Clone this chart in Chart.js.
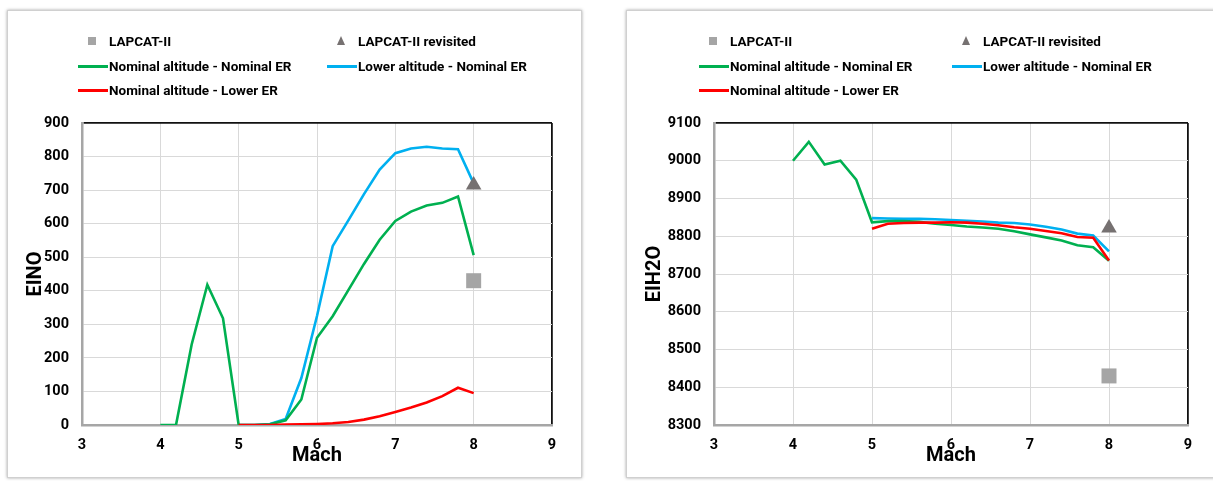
<!DOCTYPE html>
<html>
<head>
<meta charset="utf-8">
<script src="https://cdn.jsdelivr.net/npm/chart.js@4"></script>
<style>
  body { margin: 0; background: #fff; width: 1213px; height: 481px; overflow: hidden; position: relative; font-family: Roboto, "Liberation Sans", sans-serif; }
  .panel { position: absolute; top: 10px; height: 468px; background: #fff; border: 1px solid #d0d0d0; box-shadow: 0 0 3px rgba(0,0,0,0.35); box-sizing: border-box; }
  .panel canvas { position: absolute; left: 0; top: 0; }
  .leg { position: absolute; font-weight: bold; font-size: 13.5px; color: #000; white-space: nowrap; line-height: 16px; }
  .leg .txt { position: absolute; top: -8px; }
  .leg .line { position: absolute; height: 3px; top: -1.5px; }
  .leg .sq { position: absolute; width: 8px; height: 8px; top: -4px; background: #a5a5a5; }
  .leg .tri { position: absolute; width: 0; height: 0; top: -5px; border-left: 4.5px solid transparent; border-right: 4.5px solid transparent; border-bottom: 9px solid #767171; }
</style>
</head>
<body>
<div class="panel" id="p1" style="left:7px; width:575px;"><canvas id="c1" width="575" height="468"></canvas></div>
<div class="panel" id="p2" style="left:626px; width:600px;"><canvas id="c2" width="600" height="468"></canvas></div>
<script>
// Mach numbers
const machFull = [4, 4.2, 4.4, 4.6, 4.8, 5, 5.2, 5.4, 5.6, 5.8, 6, 6.2, 6.4, 6.6, 6.8, 7, 7.2, 7.4, 7.6, 7.8, 8];
const machHigh = [5, 5.2, 5.4, 5.6, 5.8, 6, 6.2, 6.4, 6.6, 6.8, 7, 7.2, 7.4, 7.6, 7.8, 8];
const xTicks = [3, 4, 5, 6, 7, 8, 9];

const seriesNames = ['LAPCAT-II', 'LAPCAT-II revisited', 'Nominal altitude - Nominal ER', 'Lower altitude - Nominal ER', 'Nominal altitude - Lower ER'];

// EINO
const einoNomNom = [0, 0, 240, 418, 318, 0, 0, 2, 14, 76, 260, 324, 402, 480, 552, 608, 636, 654, 662, 681, 506];
const einoLowNom = [0, 0, 3, 18, 140, 325, 533, 610, 688, 761, 810, 824, 829, 824, 822, 720];
const einoNomLow = [0, 0, 0, 1, 2, 3, 5, 9, 16, 26, 39, 52, 67, 86, 111, 95];
const einoLapcat = 430;
const einoRevisited = 715;
const einoTicks = [0, 100, 200, 300, 400, 500, 600, 700, 800, 900];

// EIH2O
const h2oNomNom = [9000, 9050, 8990, 9000, 8950, 8837, 8840, 8840, 8838, 8833, 8830, 8826, 8823, 8820, 8813, 8805, 8797, 8789, 8776, 8771, 8735];
const h2oLowNom = [8848, 8847, 8846, 8846, 8845, 8843, 8841, 8839, 8836, 8835, 8831, 8825, 8818, 8807, 8802, 8760];
const h2oNomLow = [8820, 8833, 8835, 8836, 8836, 8837, 8836, 8833, 8829, 8824, 8820, 8814, 8808, 8798, 8796, 8736];
const h2oLapcat = 8430;
const h2oRevisited = 8822;
const h2oTicks = [8300, 8400, 8500, 8600, 8700, 8800, 8900, 9000, 9100];

const GREEN = '#00b050', BLUE = '#00b0f0', RED = '#ff0000';
const tickFont = { family: 'Roboto', weight: 'bold', size: 14.5 };
const titleFont = { family: 'Roboto', weight: 'bold', size: 20 };

function pts(xs, ys) {
  return xs.map((x, i) => ({ x: x, y: ys[i] }));
}

// html legend, two columns
function buildLegend(panel, col1, col2) {
  const rows = [
    [col1, 30, 'sq', seriesNames[0]],
    [col2, 30, 'tri', seriesNames[1]],
    [col1, 55, GREEN, seriesNames[2]],
    [col2, 55, BLUE, seriesNames[3]],
    [col1, 79, RED, seriesNames[4]]
  ];
  rows.forEach(r => {
    const d = document.createElement('div');
    d.className = 'leg';
    d.style.left = r[0] + 'px';
    d.style.top = r[1] + 'px';
    let mark;
    if (r[2] === 'sq') {
      mark = '<span class="sq" style="left:-21px"></span>';
    } else if (r[2] === 'tri') {
      mark = '<span class="tri" style="left:-21.5px"></span>';
    } else {
      mark = '<span class="line" style="left:-31px;width:30px;background:' + r[2] + '"></span>';
    }
    d.innerHTML = mark + '<span class="txt">' + r[3] + '</span>';
    panel.appendChild(d);
  });
}

function makeChart(id, cfg) {
  const ctx = document.getElementById(id).getContext('2d');
  const yMin = cfg.ticks[0], yMax = cfg.ticks[cfg.ticks.length - 1];
  return new Chart(ctx, {
    type: 'line',
    data: {
      datasets: [
        { label: seriesNames[0], data: [{ x: 8, y: cfg.lapcat }], showLine: false, pointStyle: 'rect', pointRadius: 10.6, backgroundColor: '#a5a5a5', borderWidth: 0 },
        { label: seriesNames[1], data: [{ x: 8, y: cfg.revisited }], showLine: false, pointStyle: 'triangle', pointRadius: 9, backgroundColor: '#767171', borderWidth: 0 },
        { label: seriesNames[4], data: pts(machHigh, cfg.nomLow), borderColor: RED, borderWidth: 2.6, pointRadius: 0 },
        { label: seriesNames[2], data: pts(machFull, cfg.nomNom), borderColor: GREEN, borderWidth: 2.6, pointRadius: 0 },
        { label: seriesNames[3], data: pts(machHigh, cfg.lowNom), borderColor: BLUE, borderWidth: 2.6, pointRadius: 0 }
      ]
    },
    options: {
      responsive: false,
      animation: false,
      devicePixelRatio: 1,
      layout: { padding: { top: 112, right: cfg.padRight, bottom: 0, left: 0 } },
      plugins: { legend: { display: false }, tooltip: { enabled: false } },
      scales: {
        x: {
          type: 'linear', min: 3, max: 9,
          afterBuildTicks: s => { s.ticks = xTicks.map(v => ({ value: v })); },
          afterFit: s => { s.height = 54; },
          ticks: { font: tickFont, color: '#000', padding: 12, callback: v => String(v) },
          grid: {
            drawTicks: false,
            color: c => c.tick && c.tick.value === 9 ? '#111' : (c.tick && c.tick.value === 3 ? 'rgba(0,0,0,0)' : '#d9d9d9'),
            lineWidth: c => c.tick && c.tick.value === 9 ? 1.8 : 1
          },
          border: { color: '#a6a6a6', width: 2.5 },
          title: { display: true, text: 'Mach', font: titleFont, color: '#000', padding: { top: 0, bottom: 11 } }
        },
        y: {
          type: 'linear', min: yMin, max: yMax,
          afterBuildTicks: s => { s.ticks = cfg.ticks.map(v => ({ value: v })); },
          afterFit: s => { s.width = cfg.yWidth; },
          ticks: { font: tickFont, color: '#000', padding: 13, callback: v => String(v) },
          grid: {
            drawTicks: false,
            color: c => c.tick && c.tick.value === yMax ? '#111' : (c.tick && c.tick.value === yMin ? 'rgba(0,0,0,0)' : '#d9d9d9'),
            lineWidth: c => c.tick && c.tick.value === yMax ? 1.8 : 1
          },
          border: { color: '#a6a6a6', width: 2.5 },
          title: { display: true, text: cfg.yTitle, font: titleFont, color: '#000', padding: { top: 15.5, bottom: 0 } }
        }
      }
    }
  });
}

buildLegend(document.getElementById('p1'), 101, 350);
buildLegend(document.getElementById('p2'), 103, 356);

makeChart('c1', { nomNom: einoNomNom, lowNom: einoLowNom, nomLow: einoNomLow, lapcat: einoLapcat, revisited: einoRevisited, ticks: einoTicks, yTitle: 'EINO', yWidth: 74, padRight: 31 });
makeChart('c2', { nomNom: h2oNomNom, lowNom: h2oLowNom, nomLow: h2oNomLow, lapcat: h2oLapcat, revisited: h2oRevisited, ticks: h2oTicks, yTitle: 'EIH2O', yWidth: 87, padRight: 39 });
</script>
</body>
</html>
